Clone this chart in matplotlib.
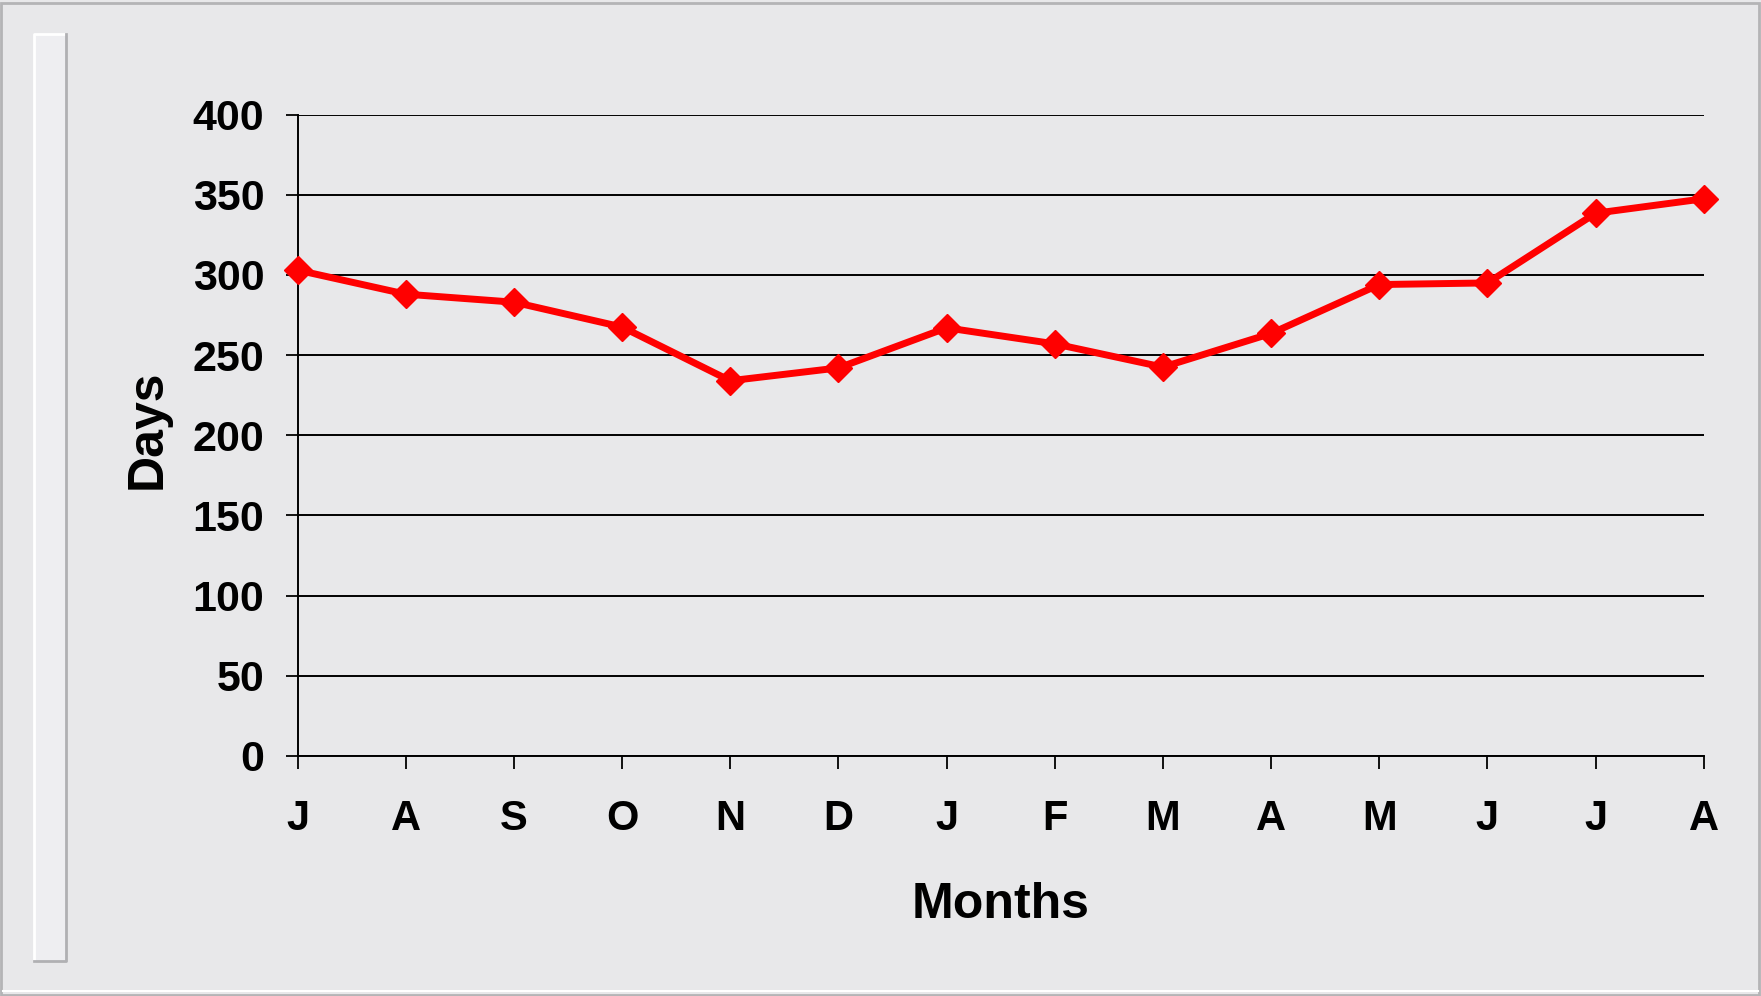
import matplotlib
matplotlib.use('Agg')
import matplotlib.pyplot as plt
import matplotlib.patches as mpatches
from matplotlib.lines import Line2D
import numpy as np

months = ['J', 'A', 'S', 'O', 'N', 'D', 'J', 'F', 'M', 'A', 'M', 'J', 'J', 'A']
days = [303, 288, 283, 267.5, 234, 242, 267, 257, 242.5, 263.5, 294, 295, 338.5, 347.5]
y_ticks = [0, 50, 100, 150, 200, 250, 300, 350, 400]

W, H = 1761, 996
BG = '#e8e8ea'
LINE_RED = '#ff0000'

plt.rcParams['font.family'] = ['Liberation Sans', 'DejaVu Sans']
plt.rcParams['font.weight'] = 'bold'

fig = plt.figure(figsize=(W / 100, H / 100), dpi=100, facecolor=BG)

# outer frame
fig.add_artist(mpatches.Rectangle((1 / W, 1 / H), (W - 3) / W, (H - 4) / H,
                                  transform=fig.transFigure, fill=False,
                                  edgecolor='#b4b4b6', linewidth=2))
fig.add_artist(Line2D([3 / W, (W - 3) / W], [5 / H, 5 / H], transform=fig.transFigure,
                      color='white', linewidth=1.5))

# bevelled strip on the left
x0, x1, ytop, ybot = 34, 66, 34, 961
fig.add_artist(mpatches.Rectangle((x0 / W, 1 - ybot / H), (x1 - x0) / W, (ybot - ytop) / H,
                                  transform=fig.transFigure, facecolor='#eeeef1',
                                  edgecolor='none'))
fig.add_artist(Line2D([x0 / W, x0 / W, x1 / W], [1 - ybot / H, 1 - ytop / H, 1 - ytop / H],
                      transform=fig.transFigure, color='white', linewidth=2))
fig.add_artist(Line2D([x0 / W, x1 / W, x1 / W], [1 - ybot / H, 1 - ybot / H, 1 - ytop / H],
                      transform=fig.transFigure, color='#b0b0b3', linewidth=2))

left, right = 297.6 / W, 1703.8 / W
bottom, top = 1 - 755.9 / H, 1 - 114.6 / H
ax = fig.add_axes([left, bottom, right - left, top - bottom])
ax.set_facecolor('none')

x = np.arange(len(months))
ax.plot(x, days, color=LINE_RED, linewidth=5, marker='D', markersize=14.5,
        markerfacecolor=LINE_RED, markeredgecolor=LINE_RED, zorder=5, clip_on=False)

ax.set_xlim(0, len(months) - 1)
ax.set_ylim(0, 400)
ax.set_yticks(y_ticks)
ax.set_xticks(x)
ax.set_xticklabels(months)

for yv in y_ticks:
    ax.axhline(yv, color='black', linewidth=1.4, zorder=1)

for side in ['top', 'right']:
    ax.spines[side].set_visible(False)
ax.spines['left'].set_linewidth(1.4)
ax.spines['bottom'].set_linewidth(1.4)

ax.tick_params(axis='y', direction='out', length=9, width=1.3, pad=15,
               labelsize=31, colors='black')
ax.tick_params(axis='x', direction='out', length=9, width=1.3, pad=22,
               labelsize=30, colors='black')
for lbl in ax.get_xticklabels() + ax.get_yticklabels():
    lbl.set_fontweight('bold')

ax.set_ylabel('Days', fontsize=36, fontweight='bold')
ax.yaxis.set_label_coords(-0.090, 0.51)
ax.set_xlabel('Months', fontsize=36, fontweight='bold')
ax.xaxis.set_label_coords(0.5, -0.196)

fig.savefig('out.png', dpi=100, facecolor=BG)
